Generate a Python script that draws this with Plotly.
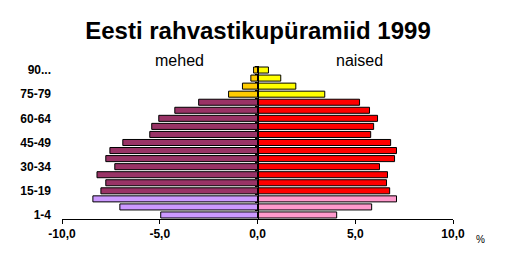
import plotly.graph_objects as go

ages = ["1-4", "5-9", "10-14", "15-19", "20-24", "25-29", "30-34", "35-39", "40-44",
        "45-49", "50-54", "55-59", "60-64", "65-69", "70-74", "75-79", "80-84", "85-89", "90..."]
male = [-4.95, -7.04, -8.42, -8.01, -7.76, -8.21, -7.30, -7.76, -7.55,
        -6.89, -5.51, -5.41, -5.05, -4.23, -3.01, -1.48, -0.77, -0.34, -0.20]
female = [4.05, 5.84, 7.11, 6.76, 6.60, 6.65, 6.24, 7.01, 7.11,
          6.81, 5.79, 5.94, 6.14, 5.73, 5.22, 3.44, 1.96, 1.19, 0.56]
group = ["child"] * 3 + ["adult"] * 12 + ["old"] * 4
male_colors = {"child": "#CC99FF", "adult": "#993366", "old": "#FFCC00"}
female_colors = {"child": "#FF99CC", "adult": "#FF0000", "old": "#FFFF00"}
ytick_labels = ["1-4", "15-19", "30-34", "45-49", "60-64", "75-79", "90..."]
xtick_vals = [-10, -5, 0, 5, 10]
xtick_text = ["-10,0", "-5,0", "0,0", "5,0", "10,0"]

FONT = "Arial, Liberation Sans, sans-serif"

fig = go.Figure()
fig.add_trace(go.Bar(y=ages, x=male, orientation="h", name="mehed",
                     marker=dict(color=[male_colors[g] for g in group],
                                 line=dict(color="black", width=1))))
fig.add_trace(go.Bar(y=ages, x=female, orientation="h", name="naised",
                     marker=dict(color=[female_colors[g] for g in group],
                                 line=dict(color="black", width=1))))
# invisible trace to anchor the centre axis
fig.add_trace(go.Scatter(x=[0], y=[0], yaxis="y2", mode="markers",
                         marker=dict(opacity=0), showlegend=False, hoverinfo="skip"))

n = len(ages)
fig.update_layout(
    width=516, height=264,
    margin=dict(l=62, r=63, t=66, b=45),
    paper_bgcolor="white", plot_bgcolor="white",
    barmode="overlay", bargap=0.25, showlegend=False,
    font=dict(family=FONT, color="black"),
    title=dict(text="Eesti rahvastikupüramiid 1999", x=0.5, xanchor="center",
               y=1 - 31 / 264, yanchor="middle", yref="container",
               font=dict(size=24, weight="bold", family=FONT)),
    xaxis=dict(range=[-10, 10], tickvals=xtick_vals, ticktext=xtick_text,
               showgrid=False, zeroline=False, showline=True, linecolor="black",
               linewidth=1, ticks="outside", ticklen=4, tickcolor="black",
               tickfont=dict(size=12, weight="bold")),
    yaxis=dict(type="category", categoryarray=ages, range=[-0.5, n - 0.5],
               tickvals=ytick_labels, ticktext=ytick_labels, showgrid=False,
               showline=False, ticks="", ticklabelstandoff=10,
               tickfont=dict(size=12, weight="bold")),
    yaxis2=dict(overlaying="y", anchor="free", position=0.5, range=[-0.5, n - 0.5],
                tickvals=[i - 0.5 for i in range(n + 1)], showticklabels=False,
                showline=True, linecolor="black", linewidth=1, ticks="outside",
                ticklen=3, tickcolor="black", showgrid=False, zeroline=False),
    annotations=[
        dict(text="mehed", x=-4.0, y=1.035, xref="x", yref="paper",
             showarrow=False, yanchor="middle", font=dict(size=16)),
        dict(text="naised", x=5.24, y=1.035, xref="x", yref="paper",
             showarrow=False, yanchor="middle", font=dict(size=16)),
        dict(text="%", x=1.088, y=-0.135, xref="paper", yref="paper",
             showarrow=False, yanchor="middle", font=dict(size=10)),
    ],
)

fig.write_html("out.html")
